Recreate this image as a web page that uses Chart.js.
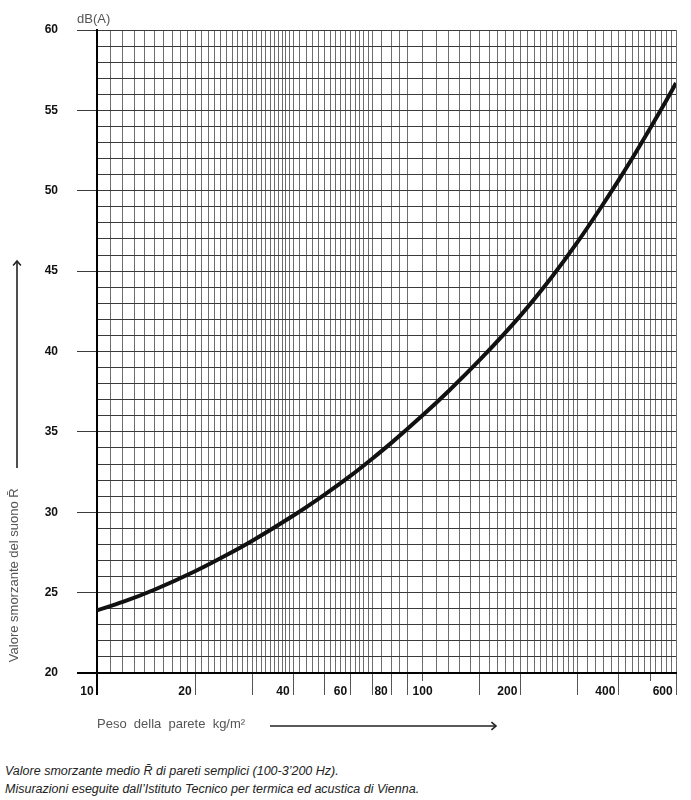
<!DOCTYPE html>
<html>
<head>
<meta charset="utf-8">
<script src="https://cdn.jsdelivr.net/npm/chart.js@4"></script>
<style>
  body { margin: 0; background: #fff; }
  #wrap { position: relative; width: 691px; height: 800px; }
  #chart { display: block; }
  #caption {
    position: absolute; left: 5px; top: 762px;
    font: italic 12.5px "Liberation Sans", Arial, sans-serif;
    line-height: 18px; color: #222; white-space: nowrap;
  }
</style>
</head>
<body>
<div id="wrap">
  <canvas id="chart" width="691" height="748"></canvas>
  <div id="caption">Valore smorzante medio R&#772; di pareti semplici (100-3’200 Hz).<br>Misurazioni eseguite dall’Istituto Tecnico per termica ed acustica di Vienna.</div>
</div>
<script>
// curve: wall mass (kg/m2) -> mean sound reduction (dB)
const massValues = [10, 12, 15, 20, 25, 30, 40, 50, 60, 70, 80, 100, 120, 150, 200, 250, 300, 350, 400, 450, 500, 550, 600];
const reductionValues = [23.9, 24.42, 25.18, 26.33, 27.34, 28.23, 29.78, 31.1, 32.26, 33.33, 34.3, 36.03, 37.53, 39.49, 42.25, 44.67, 46.85, 48.85, 50.66, 52.33, 53.89, 55.33, 56.7];

// log paper grid
const xGridValues = [
  10, 11, 12, 13, 14, 15, 16, 17, 18, 19, 20, 21, 22, 23, 24, 25, 26, 27, 28, 29, 30,
  31, 32, 33, 34, 35, 36, 37, 38, 39, 40, 42, 44, 46, 48, 50, 52, 54, 56, 58, 60,
  62, 64, 66, 68, 70, 75, 80, 85, 90, 100, 110, 120, 130, 140, 150, 160, 170, 180,
  190, 200, 210, 220, 230, 240, 250, 260, 270, 280, 290, 300, 320, 340, 360, 380,
  400, 420, 440, 460, 480, 500, 520, 540, 560, 580, 600,
];
const xTickMarks = [10, 20, 30, 40, 50, 60, 70, 80, 90, 100, 150, 200, 300, 400, 500, 600];
const xShortTicks = [100, 500];
const xTickLabels = [10, 20, 40, 60, 80, 100, 200, 400, 600];
const yTickLabels = [20, 25, 30, 35, 40, 45, 50, 55, 60];

const yTitle = "   Valore smorzante del suono R\u0304";
const xTitle = "Peso  della  parete  kg/m\u00b2";
const unitLabel = "dB(A)";

Chart.defaults.font.family = '"Liberation Sans", Arial, Helvetica, sans-serif';

// labels sit just left of their tick mark, except 100 which is centred on its short tick
function xLabel(v) {
  if (!xTickLabels.includes(v)) return "";
  if (xShortTicks.includes(v)) return String(v);
  const s = String(v);
  return s + " ".repeat(s.length === 2 ? 6 : 8);
}

function drawArrow(ctx, x1, y1, x2, y2) {
  const ang = Math.atan2(y2 - y1, x2 - x1);
  ctx.beginPath();
  ctx.moveTo(x1, y1);
  ctx.lineTo(x2, y2);
  ctx.stroke();
  ctx.beginPath();
  ctx.moveTo(x2 - 6 * Math.cos(ang - 0.7), y2 - 6 * Math.sin(ang - 0.7));
  ctx.lineTo(x2, y2);
  ctx.lineTo(x2 - 6 * Math.cos(ang + 0.7), y2 - 6 * Math.sin(ang + 0.7));
  ctx.stroke();
}

const decor = {
  id: "decor",
  afterDraw(chart) {
    const { ctx, chartArea: a } = chart;
    ctx.save();
    ctx.fillStyle = "#555";
    ctx.font = '13px "Liberation Sans", Arial, sans-serif';
    ctx.textAlign = "left";
    ctx.textBaseline = "middle";
    ctx.fillText(unitLabel, a.left - 20, a.top - 11);

    ctx.strokeStyle = "#222";
    ctx.lineWidth = 1.6;
    drawArrow(ctx, 17, a.bottom - 205, 17, a.bottom - 412);
    drawArrow(ctx, a.left + 173, a.bottom + 53, a.left + 399, a.bottom + 53);
    ctx.restore();
  },
};

new Chart(document.getElementById("chart"), {
  type: "line",
  data: {
    datasets: [{
      data: massValues.map((m, i) => ({ x: m, y: reductionValues[i] })),
      borderColor: "#111",
      borderWidth: 4,
      pointRadius: 0,
      cubicInterpolationMode: "monotone",
    }],
  },
  options: {
    responsive: false,
    animation: false,
    layout: { padding: { left: 0, right: 15, top: 30, bottom: 0 } },
    plugins: { legend: { display: false }, tooltip: { enabled: false } },
    scales: {
      x: {
        type: "logarithmic",
        min: 10,
        max: 600,
        afterBuildTicks: (scale) => {
          scale.ticks = xGridValues.map((v) => ({ value: v }));
        },
        afterFit: (scale) => { scale.height = 75; },
        border: { display: true, color: "#000", width: 2 },
        grid: {
          color: (c) => (c.tick && c.tick.value === 10 ? "#000" : "#6e6e6e"),
          lineWidth: (c) => (c.tick && c.tick.value === 10 ? 2 : 1),
          drawTicks: true,
          tickLength: 22,
          tickColor: (c) => {
            const v = c.tick && c.tick.value;
            if (v === 10) return "#000";
            return xTickMarks.includes(v) ? "#555" : "rgba(0,0,0,0)";
          },
          tickWidth: (c) => (c.tick && c.tick.value === 10 ? 2 : 1),
          tickBorderDash: (c) => (c.tick && xShortTicks.includes(c.tick.value) ? [7, 100] : []),
        },
        ticks: {
          autoSkip: false,
          maxRotation: 0,
          align: "center",
          padding: -11,
          color: "#111",
          font: { size: 12, weight: "bold" },
          callback: (v) => xLabel(v),
        },
        title: {
          display: true,
          text: xTitle,
          align: "start",
          color: "#555",
          font: { size: 13 },
          padding: { top: 0, bottom: 16 },
        },
      },
      y: {
        type: "linear",
        min: 20,
        max: 60,
        afterFit: (scale) => { scale.width = 97; },
        border: { display: true, color: "#000", width: 2 },
        grid: {
          color: (c) => (c.tick && c.tick.value === 20 ? "#000" : "#3a3a3a"),
          lineWidth: (c) => (c.tick && c.tick.value === 20 ? 2 : 1),
          drawTicks: true,
          tickLength: 20,
          tickColor: (c) => {
            const v = c.tick && c.tick.value;
            if (v === 20) return "#000";
            return yTickLabels.includes(v) ? "#3a3a3a" : "rgba(0,0,0,0)";
          },
          tickWidth: (c) => (c.tick && c.tick.value === 20 ? 2 : 1),
        },
        ticks: {
          stepSize: 1,
          maxTicksLimit: 100,
          autoSkip: false,
          padding: 19,
          color: "#111",
          font: { size: 12, weight: "bold" },
          callback: (v) => (yTickLabels.includes(v) ? String(v) : ""),
        },
        title: {
          display: true,
          text: yTitle,
          align: "start",
          color: "#555",
          font: { size: 13 },
          padding: { top: 7, bottom: 0 },
        },
      },
    },
  },
  plugins: [decor],
});
</script>
</body>
</html>
